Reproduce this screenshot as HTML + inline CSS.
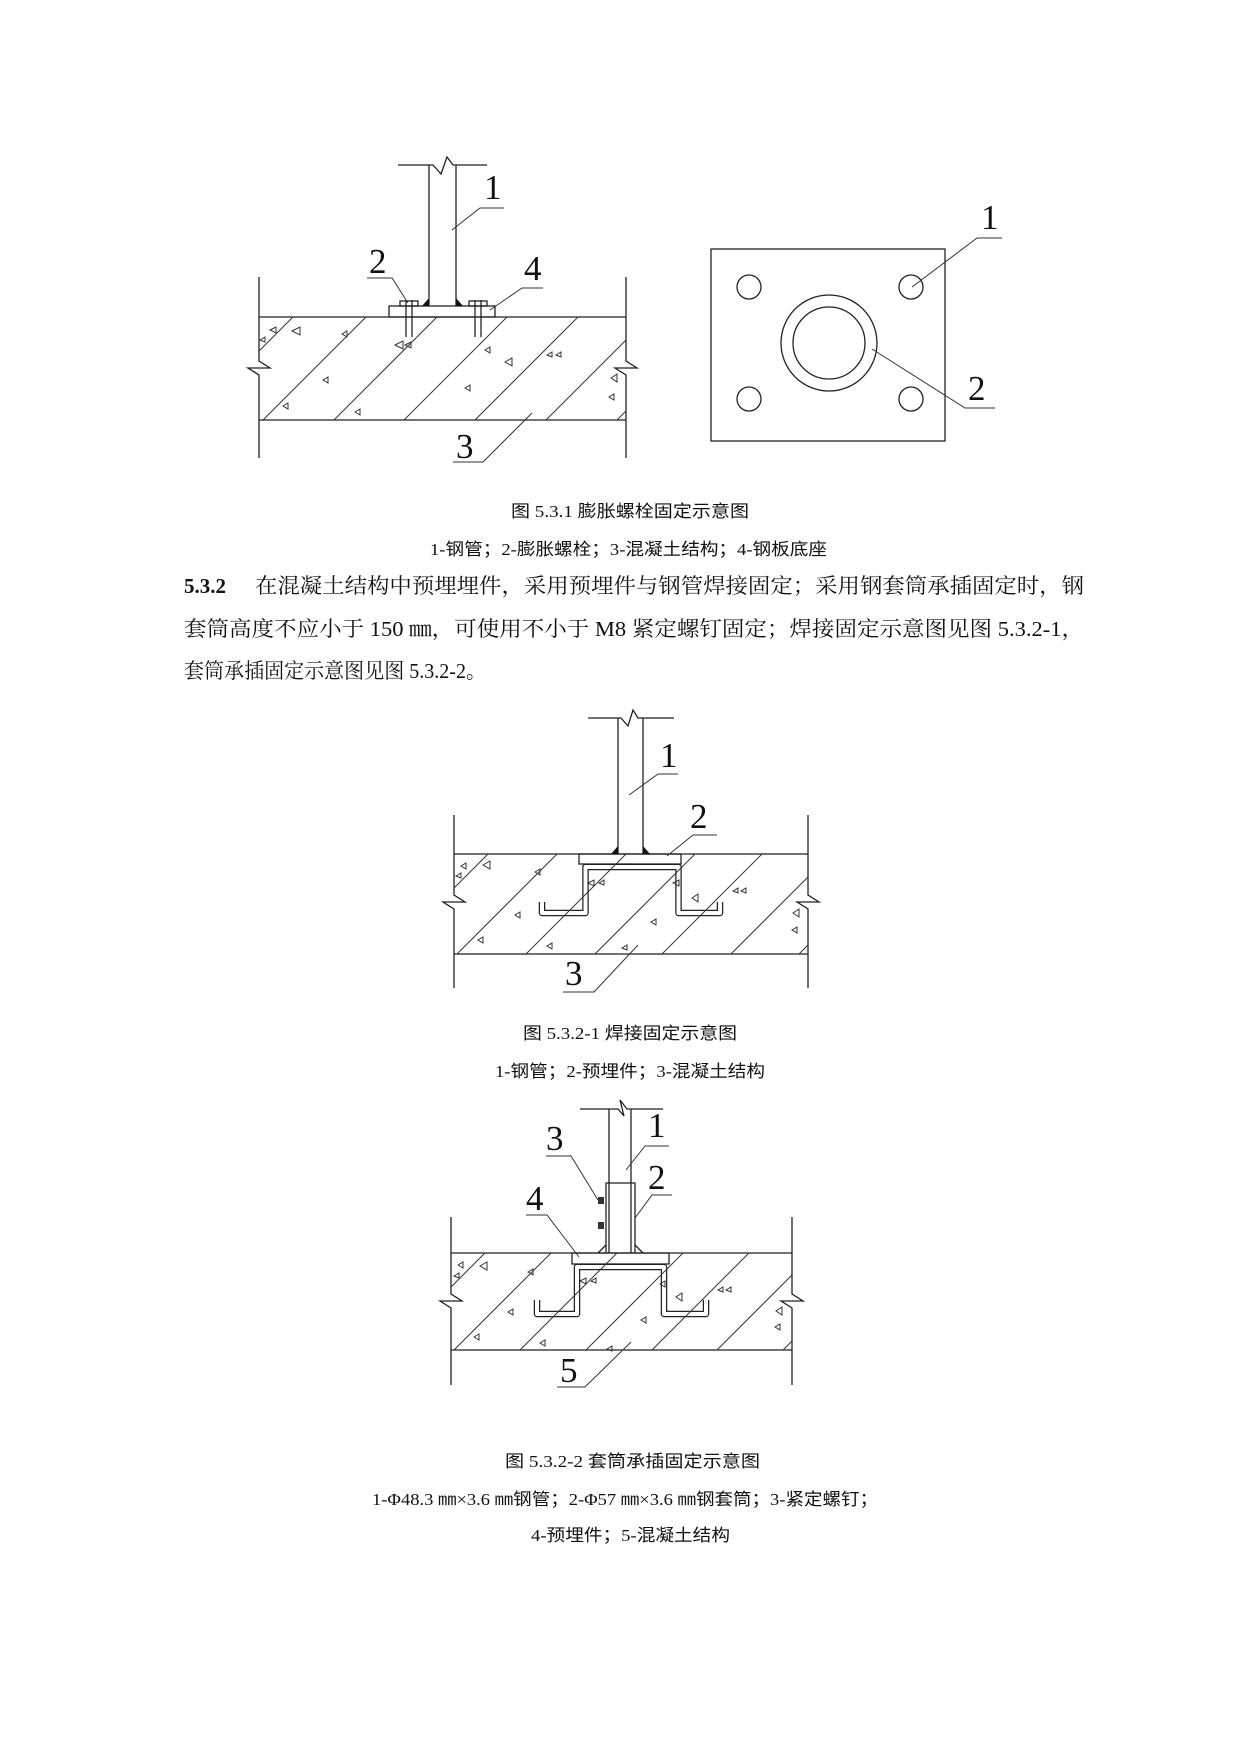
<!DOCTYPE html>
<html><head><meta charset="utf-8"><style>
html,body{margin:0;padding:0;background:#fff;}
svg{display:block;}
.l{stroke:#222;stroke-width:1.3;fill:none;}
.t{stroke:#333;stroke-width:1;fill:none;}
.n{font-family:"Liberation Serif",serif;font-size:35px;fill:#111;}
.c{font-family:"Liberation Serif","Noto Sans CJK SC",sans-serif;font-size:17px;fill:#111;}
.p{font-family:"Liberation Serif","Noto Serif CJK SC",serif;font-size:21px;fill:#111;}
</style></head><body>
<svg width="1241" height="1755" viewBox="0 0 1241 1755" xmlns="http://www.w3.org/2000/svg">
<!-- ===== FIG 1 LEFT ===== -->
<g class="l">
<polyline points="398,165 433,165 441,174 447,157 453,165 487,165"/>
<line x1="429" y1="165" x2="429" y2="306"/>
<line x1="456" y1="165" x2="456" y2="306"/>
<rect x="389" y="306" width="106" height="11"/>
<polyline points="259,277 259,361 270,368 248,368 259,375 259,458"/>
<polyline points="626,277 626,361 637,368 615,368 626,375 626,458"/>
<line x1="259" y1="317" x2="626" y2="317"/>
<line x1="259" y1="420" x2="626" y2="420"/>
<line x1="406" y1="300" x2="406" y2="337"/><line x1="412" y1="300" x2="412" y2="337"/>
<rect x="400" y="301" width="18" height="5"/>
<line x1="475" y1="300" x2="475" y2="337"/><line x1="481" y1="300" x2="481" y2="337"/>
<rect x="469" y="301" width="18" height="5"/>
</g>
<g class="t">
<line x1="263" y1="420" x2="366" y2="317"/>
<line x1="334" y1="420" x2="437" y2="317"/>
<line x1="404" y1="420" x2="507" y2="317"/>
<line x1="475" y1="420" x2="578" y2="317"/>
<line x1="546" y1="420" x2="626" y2="340"/>
<line x1="617" y1="420" x2="626" y2="411"/>
<line x1="259" y1="351" x2="293" y2="317"/>
</g>
<polygon points="422,306 429,306 429,298" fill="#111"/>
<polygon points="456,298 456,306 463,306" fill="#111"/>
<g class="t">
<path d="M270 330 l6 -3 l0 6z M292 331 l8 -4 l0 8z M260 340 l5 -3 l0 5z M342 334 l5 -3 l0 6z M395 345 l8 -4 l0 8z M405 345 l6 -3 l0 6z M323 380 l5 -3 l0 6z M283 406 l5 -3 l0 6z M355 412 l5 -3 l0 6z M485 350 l5 -3 l0 6z M505 362 l7 -4 l0 8z M547 355 l5 -3 l0 5z M556 355 l5 -3 l0 5z M465 388 l5 -3 l0 6z M611 378 l6 -4 l0 8z M609 397 l5 -3 l0 6z"/>
</g>
<g class="t">
<polyline points="452,230 480,208 504,208"/>
<polyline points="367,278 392,278 408,303"/>
<polyline points="543,288 522,288 490,310"/>
<polyline points="453,462 483,462 532,413"/>
</g>
<text class="n" x="484" y="199">1</text>
<text class="n" x="369" y="273">2</text>
<text class="n" x="524" y="280">4</text>
<text class="n" x="456" y="458">3</text>
<!-- ===== FIG 1 RIGHT ===== -->
<g class="l">
<rect x="711" y="249" width="234" height="192"/>
<circle cx="749" cy="287" r="12"/><circle cx="911" cy="287" r="12"/>
<circle cx="749" cy="399" r="12"/><circle cx="911" cy="399" r="12"/>
<circle cx="829" cy="343" r="48"/><circle cx="829" cy="343" r="36"/>
</g>
<g class="t">
<polyline points="912,287 977,238 1002,238"/>
<polyline points="872,349 965,408 995,408"/>
</g>
<text class="n" x="981" y="229">1</text>
<text class="n" x="968" y="400">2</text>
<text class="c" x="511" y="517" textLength="238" lengthAdjust="spacingAndGlyphs">图 5.3.1  膨胀螺栓固定示意图</text>
<text class="c" x="430" y="555" textLength="397" lengthAdjust="spacingAndGlyphs">1-钢管；2-膨胀螺栓；3-混凝土结构；4-钢板底座</text>
<text class="p" x="184" y="593" font-weight="bold">5.3.2</text>
<text class="p" x="255" y="593" textLength="829" lengthAdjust="spacingAndGlyphs">在混凝土结构中预埋埋件，采用预埋件与钢管焊接固定；采用钢套筒承插固定时，钢</text>
<text class="p" x="184" y="636" textLength="900" lengthAdjust="spacingAndGlyphs">套筒高度不应小于 150 ㎜，可使用不小于 M8 紧定螺钉固定；焊接固定示意图见图 5.3.2-1，</text>
<text class="p" x="184" y="678" textLength="302" lengthAdjust="spacingAndGlyphs">套筒承插固定示意图见图 5.3.2-2。</text>
<!-- ===== FIG 2 ===== -->
<g class="l">
<polyline points="588,718 621,718 628,726 633,710 638,718 674,718"/>
<line x1="618" y1="718" x2="618" y2="854"/>
<line x1="643" y1="718" x2="643" y2="854"/>
<polyline points="454,815 454,895 465,902 443,902 454,909 454,988"/>
<polyline points="808,815 808,895 819,902 797,902 808,909 808,988"/>
<line x1="454" y1="854" x2="808" y2="854"/>
<line x1="454" y1="954" x2="808" y2="954"/>
<rect x="579" y="854" width="102" height="10"/>
</g>
<path d="M542 902 L542 913 L585.5 913 L585.5 867 L678.5 867 L678.5 913 L720 913 L720 902" fill="none" stroke="#222" stroke-width="6.5" stroke-linejoin="round"/>
<path d="M542 902 L542 913 L585.5 913 L585.5 867 L678.5 867 L678.5 913 L720 913 L720 902" fill="none" stroke="#fff" stroke-width="4" stroke-linejoin="round"/>
<polygon points="611,854 618,854 618,846" fill="#111"/>
<polygon points="643,846 643,854 650,854" fill="#111"/>
<g class="t">
<line x1="457" y1="954" x2="557" y2="854"/>
<line x1="454" y1="888" x2="488" y2="854"/>
<line x1="526" y1="954" x2="626" y2="854"/>
<line x1="595" y1="954" x2="695" y2="854"/>
<line x1="662" y1="954" x2="762" y2="854"/>
<line x1="731" y1="954" x2="808" y2="877"/>
<line x1="799" y1="954" x2="808" y2="945"/>
<path d="M461 866 l5 -3 l0 6z M483 865 l7 -4 l0 8z M456 876 l5 -3 l0 5z M535 872 l5 -3 l0 6z M588 883 l6 -3 l0 6z M599 883 l5 -3 l0 5z M673 883 l6 -3 l0 6z M692 898 l6 -4 l0 8z M733 891 l5 -3 l0 5z M741 891 l5 -3 l0 5z M515 915 l5 -3 l0 6z M478 940 l5 -3 l0 6z M547 946 l5 -3 l0 6z M651 922 l5 -3 l0 6z M622 948 l5 -3 l0 5z M793 913 l6 -4 l0 8z M792 930 l5 -3 l0 6z"/>
<polyline points="629,795 658,774 678,774"/>
<polyline points="717,835 693,835 667,856"/>
<polyline points="563,992 594,992 638,945"/>
</g>
<text class="n" x="660" y="767">1</text>
<text class="n" x="690" y="828">2</text>
<text class="n" x="565" y="985">3</text>
<text class="c" x="523" y="1039" textLength="214" lengthAdjust="spacingAndGlyphs">图 5.3.2-1  焊接固定示意图</text>
<text class="c" x="495" y="1077" textLength="270" lengthAdjust="spacingAndGlyphs">1-钢管；2-预埋件；3-混凝土结构</text>
<!-- ===== FIG 3 ===== -->
<g class="l">
<polyline points="580,1109 618,1109 624,1116 620,1100 627,1109 663,1109"/>
<line x1="609" y1="1109" x2="609" y2="1253"/>
<line x1="631" y1="1109" x2="631" y2="1253"/>
<polyline points="606,1253 606,1183 635,1183 635,1253"/>
<polyline points="451,1217 451,1294 462,1301 440,1301 451,1308 451,1385"/>
<polyline points="792,1217 792,1294 803,1301 781,1301 792,1308 792,1385"/>
<line x1="451" y1="1253" x2="792" y2="1253"/>
<line x1="451" y1="1350" x2="792" y2="1350"/>
<rect x="572" y="1253" width="97" height="11"/>
<line x1="606" y1="1245" x2="598" y2="1253"/>
<line x1="635" y1="1245" x2="643" y2="1253"/>
</g>
<rect x="598" y="1197" width="6" height="7" fill="#333"/>
<rect x="598" y="1222" width="6" height="7" fill="#333"/>
<path d="M537 1300 L537 1314 L577 1314 L577 1267 L664 1267 L664 1314 L706 1314 L706 1300" fill="none" stroke="#222" stroke-width="6.5" stroke-linejoin="round"/>
<path d="M537 1300 L537 1314 L577 1314 L577 1267 L664 1267 L664 1314 L706 1314 L706 1300" fill="none" stroke="#fff" stroke-width="4" stroke-linejoin="round"/>
<g class="t">
<line x1="454" y1="1350" x2="551" y2="1253"/>
<line x1="451" y1="1287" x2="485" y2="1253"/>
<line x1="520" y1="1350" x2="617" y2="1253"/>
<line x1="586" y1="1350" x2="683" y2="1253"/>
<line x1="652" y1="1350" x2="749" y2="1253"/>
<line x1="717" y1="1350" x2="792" y2="1275"/>
<line x1="783" y1="1350" x2="792" y2="1341"/>
<path d="M458 1265 l5 -3 l0 6z M480 1266 l7 -4 l0 8z M454 1276 l5 -3 l0 5z M528 1272 l5 -3 l0 6z M580 1281 l6 -3 l0 6z M591 1281 l5 -3 l0 5z M660 1284 l5 -3 l0 6z M676 1297 l6 -4 l0 8z M718 1290 l5 -3 l0 5z M726 1290 l5 -3 l0 5z M508 1312 l5 -3 l0 6z M474 1337 l5 -3 l0 6z M540 1343 l5 -3 l0 6z M641 1320 l5 -3 l0 6z M607 1349 l5 -3 l0 5z M776 1311 l6 -4 l0 8z M775 1327 l5 -3 l0 6z"/>
<polyline points="546,1156 571,1156 598,1200"/>
<polyline points="669,1146 645,1146 626,1170"/>
<polyline points="672,1195 652,1195 635,1218"/>
<polyline points="526,1215 547,1215 579,1257"/>
<polyline points="557,1387 585,1387 631,1342"/>
</g>
<text class="n" x="546" y="1150">3</text>
<text class="n" x="648" y="1137">1</text>
<text class="n" x="648" y="1189">2</text>
<text class="n" x="526" y="1210">4</text>
<text class="n" x="560" y="1382">5</text>
<text class="c" x="505" y="1467" textLength="255" lengthAdjust="spacingAndGlyphs">图 5.3.2-2  套筒承插固定示意图</text>
<text class="c" x="372" y="1505" textLength="506" lengthAdjust="spacingAndGlyphs">1-Φ48.3 ㎜×3.6 ㎜钢管；2-Φ57 ㎜×3.6 ㎜钢套筒；3-紧定螺钉；</text>
<text class="c" x="531" y="1541" textLength="199" lengthAdjust="spacingAndGlyphs">4-预埋件；5-混凝土结构</text>
</svg>
</body></html>
